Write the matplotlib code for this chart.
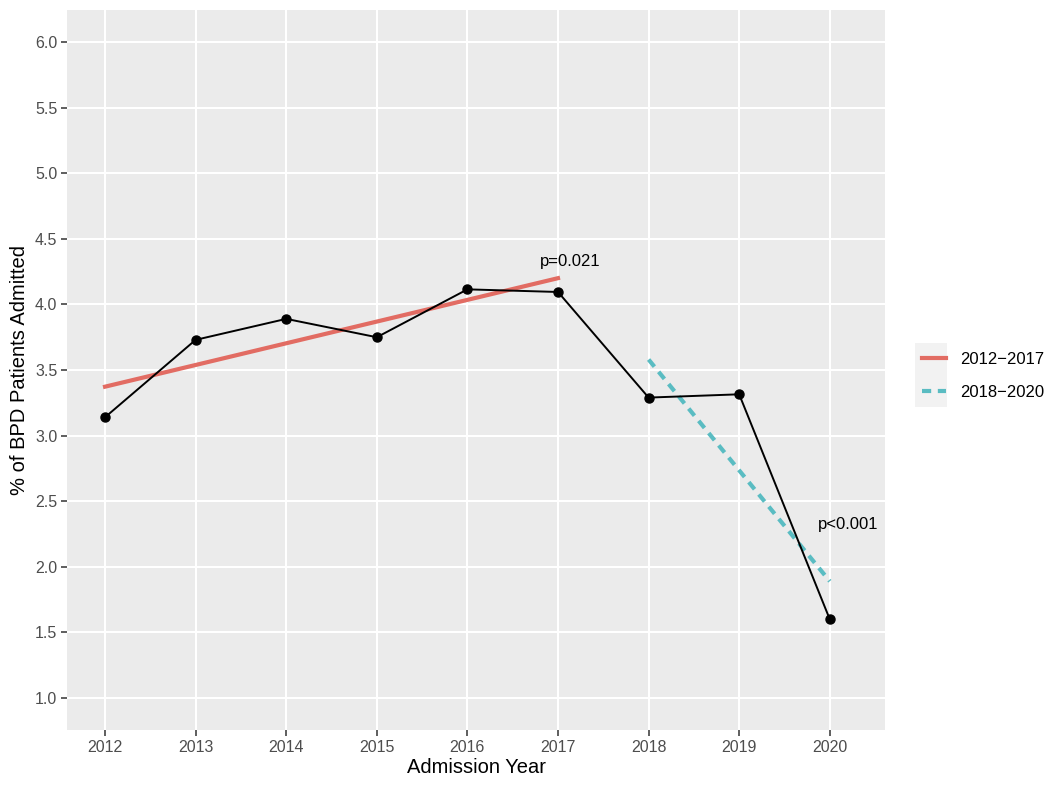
import numpy as np
import matplotlib
matplotlib.use("Agg")
import matplotlib.pyplot as plt
from matplotlib.lines import Line2D
from matplotlib.patches import Rectangle

# data
years = [2012, 2013, 2014, 2015, 2016, 2017, 2018, 2019, 2020]
pct = [3.14, 3.73, 3.89, 3.75, 4.115, 4.095, 3.29, 3.315, 1.60]
seg_labels = ["2012\u22122017", "2018\u22122020"]
seg_ranges = [(2012, 2017), (2018, 2020)]
seg_colors = ["#E26C63", "#5ABCC2"]
seg_styles = ["-", (0, (2.2, 1.6))]
p_labels = ["p=0.021", "p<0.001"]
p_pos = [(2017.13, 4.33), (2020.2, 2.32)]
yticks = [1.0, 1.5, 2.0, 2.5, 3.0, 3.5, 4.0, 4.5, 5.0, 5.5, 6.0]

plt.rcParams['font.family'] = ['Liberation Sans', 'DejaVu Sans']

fig = plt.figure(figsize=(10.5, 7.9), dpi=100)
ax = fig.add_axes([0.0638, 0.0759, 0.7791, 0.9114])
ax.set_facecolor("#EBEBEB")
for s in ax.spines.values():
    s.set_visible(False)
ax.grid(True, color="white", linewidth=1.5)
ax.set_axisbelow(True)

x = np.array(years)
y = np.array(pct)
handles = []
for (a, b), col, ls, lab in zip(seg_ranges, seg_colors, seg_styles, seg_labels):
    m = (x >= a) & (x <= b)
    k, c = np.polyfit(x[m], y[m], 1)
    xx = np.array([a, b])
    ax.plot(xx, k * xx + c, color=col, linewidth=3, linestyle=ls, zorder=2)
    handles.append(Line2D([], [], color=col, linewidth=3, linestyle=ls))

ax.plot(years, pct, color="black", linewidth=1.4, zorder=3)
ax.plot(years, pct, "o", color="black", markersize=6.5, zorder=4)

for t, (px, py) in zip(p_labels, p_pos):
    ax.text(px, py, t, fontsize=12, ha="center", va="center", color="black")

ax.set_xlim(2011.58, 2020.61)
ax.set_ylim(0.756, 6.244)
ax.set_xticks(years)
ax.set_yticks(yticks)
ax.set_yticklabels(["%.1f" % v for v in yticks])
ax.tick_params(axis="both", labelsize=11.5, labelcolor="#4D4D4D", color="#333333",
               length=4, width=1.1, pad=3)
ax.set_xlabel("Admission Year", fontsize=14.5, labelpad=2)
ax.set_ylabel("% of BPD Patients Admitted", fontsize=14.5, labelpad=4)

# legend key background
fig.patches.append(Rectangle((0.8714, 0.4848), 0.0305, 0.081, transform=fig.transFigure,
                             facecolor="#F2F2F2", edgecolor="none", zorder=0))
leg = fig.legend(handles, seg_labels, loc="center left", bbox_to_anchor=(0.864, 0.524),
                 frameon=False, fontsize=12, handlelength=1.4, labelspacing=1.05,
                 handletextpad=0.9)

fig.savefig("out.png", dpi=100)
